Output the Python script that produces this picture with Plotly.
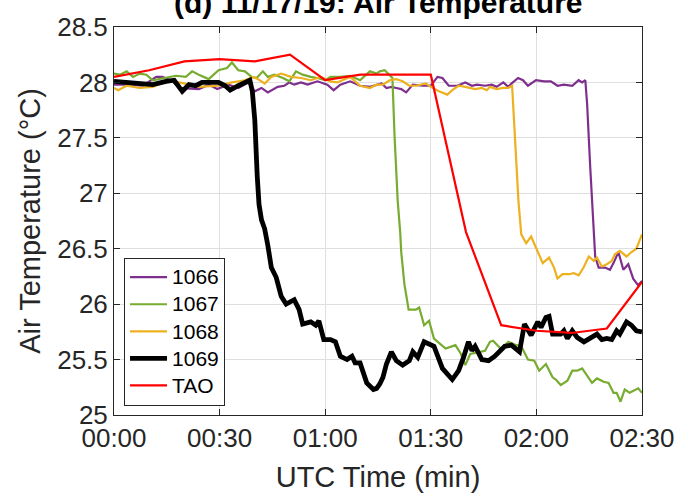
import plotly.graph_objects as go

# ---- Sensor 1066 (purple) ----
t_1066 = [0, 5.4, 8.2, 12.0, 13.8, 16.6, 18.5, 24.1, 26.9, 29.3, 32.5, 35.3, 38.1, 40.0,
          41.9, 43.7, 46.5, 48.4, 49.8, 51.2, 53.1, 55.0, 57.8, 60.6, 62.4, 64.3, 67.1,
          69.9, 72.7, 74.6, 76.0, 77.4, 78.8, 80.2, 81.6, 83.0, 84.9, 87.7, 90.0, 91.9,
          93.3, 95.1, 97.5, 99.8, 101.7, 103.1, 105.4, 107.3, 108.7, 110.6, 112.0, 112.9,
          114.8, 116.2, 117.6, 119.9, 122.2, 124.1, 126.0, 127.8, 130.2, 132.0, 133.0,
          133.9, 134.4, 135.3, 135.8, 136.3, 136.7, 137.7, 139.5, 140.9, 141.9, 143.3,
          144.7, 146.1, 147.5, 148.9, 150.0]
T_1066 = [27.98, 27.98, 27.97, 28.05, 28.05, 28.01, 27.95, 27.94, 27.98, 27.94, 27.98, 27.95,
          28.00, 27.92, 27.95, 27.91, 27.96, 27.97, 28.00, 27.98, 28.00, 27.98, 28.01, 27.98,
          27.93, 27.98, 28.01, 27.97, 27.96, 27.98, 27.99, 27.95, 27.96, 27.95, 27.94, 27.91,
          27.98, 27.97, 27.97, 28.05, 28.04, 27.97, 27.97, 28.00, 27.97, 27.98, 27.97, 27.98,
          27.96, 28.00, 27.96, 27.99, 28.04, 28.02, 27.97, 28.02, 28.01, 28.01, 27.97, 27.98,
          27.97, 28.02, 28.00, 28.02, 27.81, 27.23, 26.91, 26.65, 26.43, 26.33, 26.33, 26.31,
          26.37, 26.47, 26.31, 26.36, 26.23, 26.17, 26.21]

# ---- Sensor 1067 (green) ----
t_1067 = [0, 1.7, 3.6, 5.4, 7.3, 9.2, 11.0, 14.8, 17.6, 20.4, 22.2, 24.1, 26.9, 29.7, 32.1,
          33.5, 35.3, 37.2, 39.1, 40.5, 42.3, 43.7, 45.6, 48.0, 49.8, 51.7, 53.6, 55.9, 57.8,
          60.1, 61.5, 64.3, 67.1, 69.9, 72.7, 74.6, 75.5, 76.9, 78.3, 79.1, 79.7, 80.6, 81.3,
          81.6, 82.5, 83.7, 85.8, 86.7, 88.1, 89.5, 90.9, 92.3, 94.2, 97.0, 98.4, 99.8, 101.2,
          102.6, 105.4, 106.8, 107.7, 110.1, 112.0, 114.3, 115.7, 117.6, 119.4, 120.8, 122.7,
          124.6, 125.5, 126.9, 128.8, 130.2, 131.6, 133.0, 134.4, 135.8, 137.2, 139.1, 140.5,
          141.9, 142.8, 143.9, 145.1, 146.5, 148.9, 150.0]
T_1067 = [28.08, 28.07, 28.10, 28.05, 28.08, 28.07, 28.02, 28.04, 28.06, 28.05, 28.10, 28.07,
          28.03, 28.11, 28.13, 28.18, 28.11, 28.10, 28.05, 28.04, 28.10, 28.05, 28.07, 28.04,
          28.01, 28.10, 28.07, 28.05, 28.04, 28.02, 28.05, 28.05, 28.06, 28.02, 28.10, 28.08,
          28.10, 28.11, 28.07, 28.04, 27.52, 26.93, 26.65, 26.47, 26.18, 25.95, 25.95, 25.97,
          25.81, 25.85, 25.69, 25.65, 25.60, 25.63, 25.56, 25.45, 25.55, 25.56, 25.58, 25.66,
          25.67, 25.59, 25.66, 25.63, 25.62, 25.50, 25.49, 25.40, 25.46, 25.34, 25.32, 25.27,
          25.31, 25.40, 25.40, 25.42, 25.35, 25.29, 25.33, 25.30, 25.29, 25.20, 25.20, 25.12,
          25.23, 25.20, 25.24, 25.20]

# ---- Sensor 1068 (yellow) ----
t_1068 = [0, 1.2, 3.6, 7.3, 11.0, 14.8, 18.5, 24.1, 29.7, 33.5, 37.2, 39.5, 40.9, 42.8, 44.7,
          47.5, 50.3, 53.1, 55.9, 58.7, 61.5, 63.4, 67.1, 69.9, 72.7, 74.6, 76.4, 78.3, 80.2,
          82.0, 83.9, 85.8, 88.6, 90.0, 92.3, 94.7, 96.1, 97.9, 99.8, 102.6, 104.5, 105.9,
          106.8, 108.7, 110.6, 112.0, 113.1, 113.6, 114.3, 114.9, 115.7, 117.1, 118.5, 120.4,
          121.8, 123.6, 125.0, 126.0, 127.4, 129.2, 130.6, 132.0, 133.4, 134.9, 136.3, 137.2,
          138.6, 140.0, 141.4, 142.3, 143.7, 145.6, 147.0, 148.4, 150.0]
T_1068 = [27.95, 27.93, 27.97, 27.95, 27.96, 28.01, 28.00, 27.96, 27.97, 28.00, 28.02, 28.05,
          28.03, 27.99, 28.05, 28.08, 28.05, 28.04, 28.02, 28.05, 28.01, 28.00, 28.05, 27.97,
          27.95, 27.98, 27.98, 28.02, 28.03, 28.01, 27.97, 27.97, 27.99, 27.96, 27.92, 27.89,
          27.93, 27.97, 27.96, 27.94, 27.95, 27.93, 27.96, 27.94, 27.95, 27.95, 27.97, 27.66,
          27.23, 26.93, 26.63, 26.55, 26.61, 26.47, 26.37, 26.42, 26.33, 26.23, 26.27, 26.27,
          26.28, 26.26, 26.33, 26.43, 26.39, 26.42, 26.34, 26.36, 26.39, 26.45, 26.48, 26.43,
          26.47, 26.50, 26.63]

# ---- Sensor 1069 (black) ----
t_1069 = [0, 3.6, 7.3, 11.0, 14.8, 17.1, 19.4, 21.3, 23.2, 25.0, 26.9, 29.7, 31.6, 33.0, 35.3,
          37.7, 38.6, 39.3, 40.0, 40.7, 41.2, 41.9, 42.8, 43.7, 44.7, 46.1, 47.5, 48.9, 51.2,
          52.6, 53.6, 55.9, 57.3, 58.2, 59.6, 61.5, 62.9, 64.3, 66.2, 67.6, 68.5, 69.9, 71.8,
          73.7, 74.6, 75.5, 76.4, 77.4, 78.8, 80.2, 82.0, 83.9, 84.9, 86.3, 88.1, 90.9, 93.3,
          96.1, 97.9, 99.3, 100.7, 101.7, 102.6, 104.5, 106.4, 108.2, 109.6, 111.0, 112.9,
          114.3, 115.2, 116.6, 118.5, 120.4, 121.3, 122.7, 123.6, 124.6, 126.9, 127.8, 128.8,
          130.2, 131.6, 133.5, 135.3, 137.2, 138.6, 140.0, 141.4, 142.8, 143.7, 145.6, 147.0,
          148.4, 150.0]
T_1069 = [28.01, 28.00, 27.98, 27.98, 28.01, 28.02, 27.92, 27.98, 27.97, 28.00, 28.00, 28.00,
          27.97, 27.93, 27.97, 28.00, 28.02, 27.92, 27.66, 27.15, 26.90, 26.76, 26.68, 26.53,
          26.33, 26.24, 26.07, 26.00, 26.04, 25.95, 25.82, 25.84, 25.81, 25.85, 25.68, 25.68,
          25.66, 25.53, 25.50, 25.53, 25.47, 25.47, 25.29, 25.23, 25.24, 25.28, 25.34, 25.46,
          25.57, 25.49, 25.45, 25.49, 25.57, 25.52, 25.66, 25.62, 25.42, 25.32, 25.40, 25.52,
          25.66, 25.58, 25.62, 25.50, 25.49, 25.53, 25.57, 25.62, 25.63, 25.60, 25.57, 25.82,
          25.72, 25.84, 25.79, 25.88, 25.89, 25.73, 25.73, 25.76, 25.69, 25.76, 25.70, 25.66,
          25.70, 25.73, 25.68, 25.69, 25.68, 25.76, 25.73, 25.84, 25.81, 25.76, 25.75]

# ---- TAO buoy (10-minute samples) ----
t_tao = [0, 10, 20, 30, 40, 50, 60, 70, 80, 90, 100, 110, 120, 130, 140, 150]
T_tao = [28.05, 28.11, 28.19, 28.21, 28.19, 28.25, 28.02, 28.07, 28.07, 28.07, 26.65, 25.81,
         25.76, 25.74, 25.78, 26.20]

# Axis tick labels
x_tickvals = [0, 30, 60, 90, 120, 150]
x_ticktext = ["00:00", "00:30", "01:00", "01:30", "02:00", "02:30"]
y_tickvals = [25, 25.5, 26, 26.5, 27, 27.5, 28, 28.5]

FONT = "Liberation Sans, Arial, Helvetica, sans-serif"
AX = "#262626"
GRID = "#dfdfdf"

series = [
    ("1066", t_1066, T_1066, "#7E2F8E", 2.2),
    ("1067", t_1067, T_1067, "#77AC30", 2.2),
    ("1068", t_1068, T_1068, "#EDB120", 2.2),
    ("1069", t_1069, T_1069, "#000000", 4.8),
    ("TAO", t_tao, T_tao, "#FF0000", 2.2),
]

fig = go.Figure()
for name, tx, ty, color, width in series:
    # compact legend rows (row height follows the legend font) with 21px labels
    fig.add_trace(go.Scatter(x=tx, y=ty, mode="lines",
                             name=f'<span style="font-size:21px">{name}</span>',
                             line=dict(color=color, width=width)))

axis_common = dict(
    showline=True, linecolor=AX, linewidth=1, mirror="ticks",
    ticks="inside", ticklen=6, tickcolor=AX, tickwidth=1,
    showgrid=True, gridcolor=GRID, gridwidth=1, zeroline=False,
    tickfont=dict(family=FONT, size=26, color=AX),
)

fig.update_layout(
    width=687, height=500,
    margin=dict(l=114, r=38, t=17, b=80),
    paper_bgcolor="white", plot_bgcolor="white",
    font=dict(family=FONT, color=AX),
    showlegend=True,
    legend=dict(x=0.019, y=0.024, xanchor="left", yanchor="bottom",
                bgcolor="white", bordercolor=AX, borderwidth=1, itemwidth=37,
                font=dict(family=FONT, size=18.5, color="#000000")),
    xaxis=dict(range=[0, 150], tickvals=x_tickvals, ticktext=x_ticktext,
               title=dict(text="UTC Time (min)", font=dict(family=FONT, size=29, color=AX),
                          standoff=14),
               **axis_common),
    yaxis=dict(range=[25, 28.5], tickvals=y_tickvals,
               title=dict(text="Air Temperature (°C)", font=dict(family=FONT, size=29, color=AX),
                          standoff=8),
               **axis_common),
    annotations=[dict(text="<b>(d) 11/17/19: Air Temperature</b>", xref="paper", yref="paper",
                      x=0.5, y=1, xanchor="center", yanchor="bottom", showarrow=False,
                      yshift=6, font=dict(family=FONT, size=30, color="#000000"))],
)

fig.write_html("out.html")
